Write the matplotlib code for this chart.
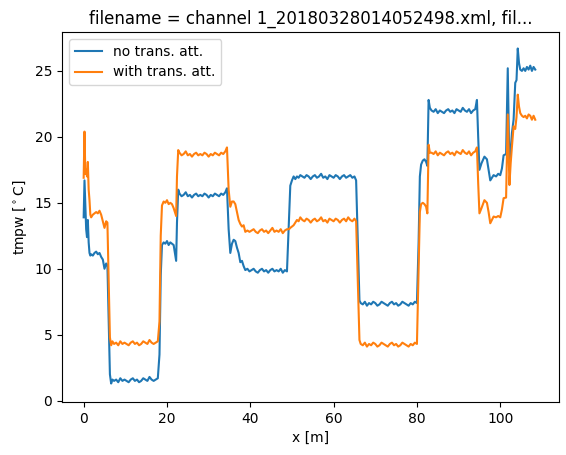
import numpy as np
import matplotlib
matplotlib.use("Agg")
from matplotlib import pyplot as plt

# distance along the fibre [m]
x = [0.0, 0.2, 0.4, 0.6, 0.8, 1.0, 1.2, 1.4, 1.6, 1.8, 2.2, 2.6, 3.0, 3.4, 3.8, 4.2, 4.6, 5.0, 5.4, 5.7, 6.0, 6.3, 6.6, 6.9,
     7.3, 7.8, 8.3, 8.8, 9.3, 9.8, 10.3, 10.8, 11.3, 11.8, 12.3, 12.8, 13.3, 13.8, 14.3, 14.8, 15.3, 15.8, 16.3, 16.8, 17.3, 17.8,
     18.2, 18.5, 18.8, 19.2, 19.6, 20.0, 20.4, 20.8, 21.2, 21.6, 22.0, 22.2,
     22.4, 22.7, 23.0, 23.5, 24.0, 24.5, 25.0, 25.5, 26.0, 26.5, 27.0, 27.5, 28.0, 28.5, 29.0, 29.5, 30.0, 30.5, 31.0, 31.5,
     32.0, 32.5, 33.0, 33.5, 34.0, 34.4,
     34.8, 35.2, 35.6, 36.0, 36.4, 36.8, 37.2, 37.6, 38.0, 38.4, 38.8,
     39.3, 39.8, 40.3, 40.8, 41.3, 41.8, 42.3, 42.8, 43.3, 43.8, 44.3, 44.8, 45.3, 45.8, 46.3, 46.8, 47.3, 47.8, 48.3, 48.8,
     49.3, 49.6,
     50.0, 50.4, 50.8, 51.2, 51.6, 52.0, 52.5, 53.0, 53.5, 54.0, 54.5, 55.0, 55.5, 56.0, 56.5, 57.0, 57.5, 58.0, 58.5, 59.0,
     59.5, 60.0, 60.5, 61.0, 61.5, 62.0, 62.5, 63.0, 63.5, 64.0, 64.5, 65.0,
     65.4, 65.8, 66.2,
     66.5, 67.0, 67.5, 68.0, 68.5, 69.0, 69.5, 70.0, 70.5, 71.0, 71.5, 72.0, 72.5, 73.0, 73.5, 74.0, 74.5, 75.0, 75.5, 76.0,
     76.5, 77.0, 77.5, 78.0, 78.5, 79.0, 79.5, 80.0,
     80.4, 80.7, 81.0, 81.4, 81.8, 82.2, 82.5, 82.8, 83.1,
     83.5, 84.0, 84.5, 85.0, 85.5, 86.0, 86.5, 87.0, 87.5, 88.0, 88.5, 89.0, 89.5, 90.0, 90.5, 91.0, 91.5, 92.0, 92.5, 93.0,
     93.5, 94.0,
     94.4, 94.7, 95.0, 95.5, 96.2, 96.8, 97.2, 97.6, 98.0, 98.4, 99.0, 99.5, 100.0, 100.4, 100.8, 101.4, 101.8, 102.2, 102.5,
     102.8, 103.2, 103.6, 103.9, 104.2, 104.5, 104.8, 105.2, 105.6, 106.0, 106.4, 106.8, 107.2, 107.6, 108.0, 108.4]

# tmpw without transient attenuation correction
no_att = [13.9, 16.7, 14.9, 13.0, 12.4, 13.7, 12.0, 11.2, 11.0, 11.1, 11.0, 11.2, 11.3, 11.1, 11.2, 10.9, 10.7, 10.0, 10.4, 10.3, 6.0, 2.0, 1.3, 1.6,
          1.5, 1.6, 1.4, 1.7, 1.5, 1.6, 1.5, 1.4, 1.6, 1.7, 1.5, 1.6, 1.4, 1.5, 1.7, 1.6, 1.5, 1.8, 1.6, 1.5, 1.6, 1.7,
          3.5, 9.5, 11.8, 12.0, 11.9, 12.1, 11.8, 12.0, 11.9, 11.8, 11.0, 10.6,
          13.5, 16.0, 15.7, 15.5, 15.6, 15.8, 15.5, 15.6, 15.4, 15.6, 15.7, 15.5, 15.6, 15.5, 15.7, 15.6, 15.4, 15.6, 15.5, 15.7,
          15.6, 15.5, 15.7, 15.6, 15.8, 16.1,
          13.0, 11.2, 11.9, 12.2, 12.1, 11.6, 11.2, 10.5, 10.6, 10.2, 9.9,
          10.0, 9.8, 9.9, 10.0, 9.8, 9.7, 9.9, 10.0, 9.8, 9.9, 9.7, 9.9, 10.0, 9.8, 9.9, 9.8, 10.0, 9.7, 9.9, 9.8,
          14.0, 16.3,
          16.7, 17.0, 16.8, 17.0, 16.9, 17.1, 17.0, 16.9, 17.1, 17.0, 16.8, 17.0, 17.1, 16.9, 17.0, 17.2, 16.9, 17.0, 16.8, 17.1,
          17.0, 16.9, 17.1, 17.0, 16.8, 17.0, 17.1, 16.9, 17.0, 17.1, 16.9, 17.0,
          16.7, 12.0, 7.6,
          7.4, 7.3, 7.5, 7.2, 7.4, 7.3, 7.5, 7.4, 7.2, 7.3, 7.5, 7.4, 7.3, 7.2, 7.4, 7.5, 7.3, 7.4, 7.2, 7.3,
          7.5, 7.4, 7.3, 7.2, 7.4, 7.3, 7.5, 7.4,
          12.0, 17.0, 17.9, 18.2, 18.3, 18.1, 17.8, 22.8, 22.2,
          22.0, 21.9, 22.1, 21.8, 22.0, 21.9, 21.8, 22.0, 22.1, 21.9, 22.0, 21.8, 22.1, 22.0, 21.9, 22.2, 22.0, 21.9, 22.1, 21.8,
          22.0, 22.1,
          22.8, 20.0, 17.5, 18.0, 18.5, 18.3, 17.5, 16.7, 16.9, 17.1, 17.0, 17.2, 17.1, 17.6, 18.6, 18.7, 25.2, 17.5, 19.0,
          20.3, 21.3, 24.1, 24.3, 26.7, 25.6, 25.1, 25.0, 25.2, 25.0, 25.3, 25.1, 25.4, 25.0, 25.3, 25.1]

# tmpw with transient attenuation correction
with_att = [16.9, 20.4, 17.2, 17.5, 17.0, 18.1, 16.0, 15.2, 14.1, 13.9, 14.1, 14.2, 14.3, 14.2, 14.4, 14.1, 13.6, 13.1, 13.6, 13.5, 9.0, 4.8, 4.2, 4.5,
            4.3, 4.4, 4.2, 4.5, 4.3, 4.4, 4.3, 4.2, 4.4, 4.5, 4.3, 4.4, 4.2, 4.3, 4.5, 4.4, 4.3, 4.6, 4.4, 4.3, 4.4, 4.5,
            6.0, 12.5, 14.8, 15.1, 15.0, 15.2, 14.9, 15.0, 14.9, 14.6, 14.2, 14.0,
            17.0, 19.0, 18.8, 18.6, 18.7, 18.9, 18.6, 18.7, 18.5, 18.7, 18.8, 18.6, 18.7, 18.6, 18.8, 18.7, 18.5, 18.7, 18.6, 18.8,
            18.7, 18.6, 18.8, 18.7, 18.9, 19.2,
            16.0, 14.7, 15.1, 15.1, 14.9, 14.3, 13.7, 13.4, 13.2, 13.3, 12.8,
            12.9, 12.8, 12.9, 13.0, 12.8, 12.7, 12.9, 13.0, 12.8, 12.9, 12.7, 12.9, 13.1, 12.8, 12.9, 12.8, 13.0, 12.7, 12.9, 13.0,
            13.0, 13.1,
            13.2, 13.3, 13.5, 13.7, 13.6, 13.9, 13.7, 13.6, 13.8, 13.7, 13.5, 13.7, 13.8, 13.6, 13.7, 13.9, 13.6, 13.7, 13.5, 13.8,
            13.7, 13.6, 13.8, 13.7, 13.5, 13.7, 13.8, 13.6, 13.9, 13.7, 13.6, 13.8,
            13.6, 9.0, 4.6,
            4.3, 4.2, 4.4, 4.1, 4.3, 4.2, 4.4, 4.3, 4.1, 4.2, 4.4, 4.3, 4.2, 4.1, 4.3, 4.4, 4.2, 4.3, 4.1, 4.2,
            4.4, 4.3, 4.2, 4.1, 4.3, 4.2, 4.4, 4.3,
            10.0, 14.3, 14.9, 15.0, 14.9, 14.7, 14.2, 19.4, 18.8,
            18.8, 18.7, 18.9, 18.6, 18.8, 18.7, 18.6, 18.8, 18.9, 18.7, 18.8, 18.6, 18.9, 18.8, 18.7, 19.0, 18.8, 18.7, 18.9, 18.6,
            18.8, 18.9,
            19.2, 16.5, 14.2, 14.6, 15.2, 15.0, 14.3, 13.45, 13.7, 13.96, 13.9, 14.0, 13.9, 14.5, 15.35, 15.4, 21.7, 16.35, 18.0,
            19.25, 20.8, 20.6, 21.5, 23.2, 22.3, 21.8, 21.6, 21.5, 21.6, 21.4, 21.7, 21.6, 21.3, 21.6, 21.3]

print(len(x), len(no_att), len(with_att))

fig = plt.figure(figsize=(5.66, 4.55), dpi=100)
ax = fig.add_axes([62 / 566, 53 / 455, 497 / 566, 370 / 455])
ax.plot(x, no_att, label='no trans. att.')
ax.plot(x, with_att, label='with trans. att.')
ax.set_xlim(-5.2, 114.1)
ax.set_ylim(-0.1, 27.95)
ax.set_xlabel('x [m]')
ax.set_ylabel(r'tmpw [$^\circ$C]')
ax.set_title('filename = channel 1_20180328014052498.xml, fil...')
ax.legend(loc='upper left')
fig.savefig('out.png', dpi=100)
